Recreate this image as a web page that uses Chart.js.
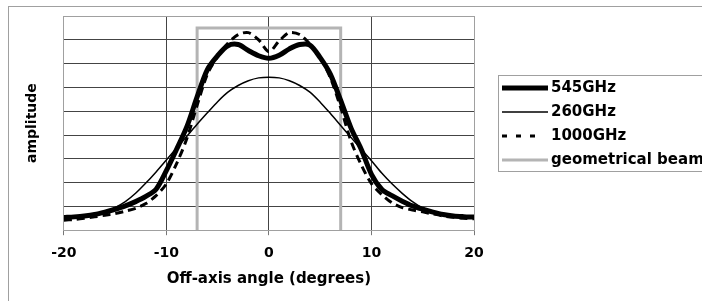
<!DOCTYPE html>
<html>
<head>
<meta charset="utf-8">
<script src="https://cdn.jsdelivr.net/npm/chart.js@4"></script>
<style>
  body { margin: 0; background: #fff; overflow: hidden; }
  #wrap { position: relative; width: 702px; height: 301px; }
</style>
</head>
<body>
<div id="wrap"><canvas id="chart" width="702" height="301"></canvas></div>
<script>
// Off-axis angle (degrees)
const angles = [-20,-19,-18,-17,-16,-15,-14,-13,-12,-11,-10,-9,-8,-7,-6,-5,-4,-3,-2,-1,0,
                1,2,3,4,5,6,7,8,9,10,11,12,13,14,15,16,17,18,19,20];

// amplitude, one gridline = 1 unit
const amp545 = [0.53,0.56,0.60,0.66,0.76,0.88,1.02,1.20,1.42,1.72,2.50,3.40,4.35,5.60,6.75,7.33,7.75,7.80,7.55,7.33,7.22,
                7.35,7.62,7.80,7.78,7.25,6.55,5.45,4.30,3.40,2.35,1.72,1.45,1.22,1.02,0.88,0.76,0.66,0.60,0.57,0.55];
const amp260 = [0.50,0.54,0.60,0.68,0.78,0.95,1.20,1.55,1.98,2.45,2.95,3.45,3.95,4.45,4.93,5.40,5.80,6.08,6.28,6.40,6.43,
                6.40,6.28,6.08,5.80,5.38,4.90,4.40,3.90,3.40,2.92,2.40,1.95,1.55,1.20,0.93,0.76,0.66,0.60,0.56,0.54];
const amp1000 = [0.42,0.45,0.50,0.56,0.63,0.70,0.80,0.92,1.12,1.45,1.95,2.80,3.85,5.25,6.55,7.30,7.85,8.22,8.30,8.00,7.50,
                 7.95,8.30,8.22,7.82,7.25,6.40,5.15,3.75,2.75,1.96,1.50,1.15,0.95,0.85,0.77,0.68,0.60,0.54,0.50,0.48];

// geometrical beam outline
const geoX = [-7, -7, 7, 7];
const geoY = [0, 8.5, 8.5, 0];

const xTicks = [-20, -10, 0, 10, 20];

function pts(xs, ys) {
    return xs.map((x, i) => ({ x: x, y: ys[i] }));
}

const FONT = "'DejaVu Sans', sans-serif";

// border round the whole chart + boxed legend on the right
const frameLegend = {
    id: 'frameLegend',
    afterDraw(chart) {
        const ctx = chart.ctx;
        ctx.save();
        ctx.strokeStyle = '#a0a0a0';
        ctx.lineWidth = 1;
        ctx.setLineDash([]);
        ctx.strokeRect(8.5, 6.5, 900, 400);

        // legend box
        ctx.strokeRect(498.5, 75.5, 300, 96);
        ctx.font = 'bold 15px ' + FONT;
        ctx.textBaseline = 'middle';
        ctx.fillStyle = '#000';
        chart.data.datasets.forEach((ds, i) => {
            const y = 88 + i * 24;
            ctx.beginPath();
            ctx.lineWidth = ds.borderWidth;
            ctx.strokeStyle = ds.borderColor;
            ctx.setLineDash(ds.borderDash ? [5, 9] : []);
            ctx.moveTo(502, y);
            ctx.lineTo(ds.borderDash ? 538 : 548, y); // dashed sample ends on a dash
            ctx.stroke();
            ctx.setLineDash([]);
            ctx.fillText(ds.label, 551, y + 0.5);
        });
        ctx.restore();
    }
};

Chart.defaults.color = '#000';
Chart.defaults.font.family = FONT;

new Chart(document.getElementById('chart').getContext('2d'), {
    type: 'scatter',
    data: {
        datasets: [
            {
                label: '545GHz',
                data: pts(angles, amp545),
                showLine: true,
                borderColor: '#000',
                borderWidth: 5,
                pointRadius: 0,
                tension: 0.3
            },
            {
                label: '260GHz',
                data: pts(angles, amp260),
                showLine: true,
                borderColor: '#000',
                borderWidth: 1.5,
                pointRadius: 0,
                tension: 0.3
            },
            {
                label: '1000GHz',
                data: pts(angles, amp1000),
                showLine: true,
                borderColor: '#000',
                borderWidth: 3,
                borderDash: [8, 5],
                pointRadius: 0,
                tension: 0.3
            },
            {
                label: 'geometrical beam',
                data: pts(geoX, geoY),
                showLine: true,
                borderColor: '#b4b4b4',
                borderWidth: 3,
                pointRadius: 0,
                tension: 0
            }
        ]
    },
    options: {
        responsive: false,
        animation: false,
        layout: {
            padding: { left: 20, right: 228, top: 16, bottom: 13 }
        },
        plugins: {
            legend: { display: false },
            tooltip: { enabled: false }
        },
        scales: {
            x: {
                type: 'linear',
                min: -20,
                max: 20,
                afterBuildTicks: axis => { axis.ticks = xTicks.map(v => ({ value: v })); },
                ticks: {
                    font: { size: 14, weight: 'bold' },
                    padding: 10,
                    maxRotation: 0
                },
                grid: {
                    color: ctx => (ctx.tick && (ctx.tick.value === 20 || ctx.tick.value === -20)) ? '#a0a0a0' : '#444',
                    tickColor: '#777',
                    tickLength: 5,
                    lineWidth: 1
                },
                border: { color: '#a0a0a0' },
                title: {
                    display: true,
                    text: 'Off-axis angle (degrees)',
                    font: { size: 15, weight: 'bold' },
                    padding: { top: -2, bottom: 0 }
                }
            },
            y: {
                type: 'linear',
                min: 0,
                max: 9,
                ticks: { display: false, stepSize: 1 },
                grid: {
                    color: ctx => (ctx.tick && (ctx.tick.value === 9 || ctx.tick.value === 0)) ? '#a0a0a0' : '#444',
                    drawTicks: false,
                    lineWidth: 1
                },
                border: { color: '#a0a0a0' },
                title: {
                    display: true,
                    text: 'amplitude',
                    font: { size: 14, weight: 'bold' },
                    padding: { top: 4, bottom: 23 }
                }
            }
        }
    },
    plugins: [frameLegend]
});
</script>
</body>
</html>
